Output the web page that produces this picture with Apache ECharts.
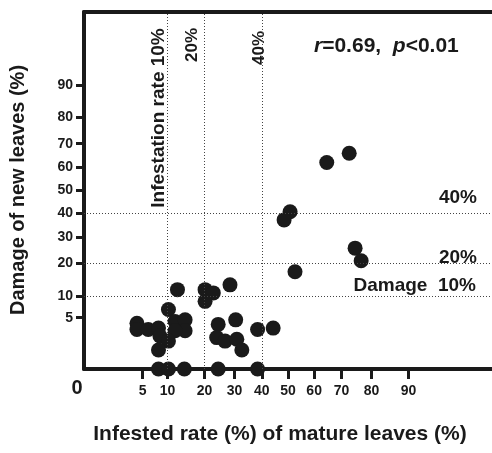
<!DOCTYPE html>
<html lang="en">
<head>
<meta charset="UTF-8">
<title>chart</title>
<script src="https://cdn.jsdelivr.net/npm/echarts@6/dist/echarts.min.js"></script>
<style>
  html, body { margin: 0; padding: 0; background: #fff; }
  #container { width: 492px; height: 453px; }
</style>
</head>
<body>
<div id="container"></div>
<script>
// values, in percent
const infested = [12.4, 10.2, 4.1, 4.1, 6.0, 8.0, 8.3, 11.8, 14.4, 14.4, 11.8, 10.2, 8.0, 8.0, 10.2, 14.2,
  20.2, 22.8, 20.2, 28.4, 24.4, 30.4, 23.9, 26.7, 30.8, 32.6, 38.4, 44.3, 24.4, 38.4,
  64.7, 72.7, 50.8, 48.5, 74.7, 76.7, 52.7]
const damage = [11.7, 6.7, 4.0, 3.0, 3.0, 3.2, 2.1, 4.3, 4.6, 2.8, 2.8, 1.5, 0.7, 0, 0, 0,
  11.7, 10.8, 8.6, 13.1, 3.8, 4.6, 1.9, 1.5, 1.7, 0.7, 3.0, 3.2, 0, 0,
  62.2, 66.1, 40.7, 37.2, 25.7, 21.0, 17.2]
const xTicks = [5, 10, 20, 30, 40, 50, 60, 70, 80, 90]
const yTicks = [5, 10, 20, 30, 40, 50, 60, 70, 80, 90]
const xRefs = [10, 20, 40]
const yRefs = [10, 20, 40]

// axes use the arcsine square-root transform (degrees)
const tf = p => Math.asin(Math.sqrt(p / 100)) * 180 / Math.PI
const back = v => Math.round(Math.pow(Math.sin(v * Math.PI / 180), 2) * 100)

const FONT = '"Liberation Sans", Arial, sans-serif'
const INK = '#1a1a1a'

const points = infested.map((x, i) => [tf(x), tf(damage[i])])

const refLine = { type: [1, 2], color: '#444', width: 1 }

const chart = echarts.init(document.getElementById('container'))
chart.setOption({
  animation: false,
  grid: { left: 84, top: 12, right: 0, bottom: 84, outerBoundsMode: 'none' },
  xAxis: [{
    type: 'value', min: 0, max: 90,
    splitLine: { show: false },
    axisLine: { lineStyle: { color: INK, width: 4 } },
    axisTick: { customValues: xTicks.map(tf), length: 10, lineStyle: { color: INK, width: 3 } },
    axisLabel: {
      customValues: xTicks.map(tf), formatter: v => back(v), margin: 15,
      color: INK, fontFamily: FONT, fontWeight: 'bold', fontSize: 14
    }
  }, {
    type: 'value', min: 0, max: 90, position: 'top',
    splitLine: { show: false }, axisTick: { show: false }, axisLabel: { show: false },
    axisLine: { lineStyle: { color: INK, width: 4 } }
  }],
  yAxis: {
    type: 'value', min: 0, max: 90,
    splitLine: { show: false },
    axisLine: { lineStyle: { color: INK, width: 4 } },
    axisTick: { customValues: yTicks.map(tf), length: 8, lineStyle: { color: INK, width: 3 } },
    axisLabel: {
      customValues: yTicks.map(tf), formatter: v => back(v), margin: 11,
      color: INK, fontFamily: FONT, fontWeight: 'bold', fontSize: 14
    }
  },
  series: [{
    type: 'scatter',
    data: points,
    symbolSize: 15,
    clip: false,
    itemStyle: { color: INK, opacity: 1 },
    markLine: {
      silent: true, symbol: 'none', label: { show: false }, lineStyle: refLine,
      data: xRefs.map(v => ({ xAxis: tf(v) })).concat(yRefs.map(v => ({ yAxis: tf(v) })))
    }
  }],
  graphic: [
    { type: 'text', x: 159, y: 118, rotation: Math.PI / 2,
      style: { text: 'Infestation rate 10%', font: 'bold 19px ' + FONT, fill: INK, align: 'center', verticalAlign: 'middle' } },
    { type: 'text', x: 192, y: 45, rotation: Math.PI / 2,
      style: { text: '20%', font: 'bold 17px ' + FONT, fill: INK, align: 'center', verticalAlign: 'middle' } },
    { type: 'text', x: 259, y: 48, rotation: Math.PI / 2,
      style: { text: '40%', font: 'bold 17px ' + FONT, fill: INK, align: 'center', verticalAlign: 'middle' } },
    { type: 'text', x: 477, y: 198,
      style: { text: '40%', font: 'bold 19px ' + FONT, fill: INK, align: 'right', verticalAlign: 'middle' } },
    { type: 'text', x: 477, y: 258,
      style: { text: '20%', font: 'bold 19px ' + FONT, fill: INK, align: 'right', verticalAlign: 'middle' } },
    { type: 'text', x: 476, y: 286,
      style: { text: 'Damage  10%', font: 'bold 19px ' + FONT, fill: INK, align: 'right', verticalAlign: 'middle' } },
    { type: 'text', x: 314, y: 46,
      style: {
        text: '{i|r}{n|=0.69,  }{i|p}{n|<0.01}', align: 'left', verticalAlign: 'middle',
        rich: {
          i: { font: 'italic bold 21px ' + FONT, fill: INK },
          n: { font: 'bold 21px ' + FONT, fill: INK }
        }
      } },
    { type: 'text', x: 77, y: 388,
      style: { text: '0', font: 'bold 20px ' + FONT, fill: INK, align: 'center', verticalAlign: 'middle' } },
    { type: 'text', x: 280, y: 434,
      style: { text: 'Infested rate (%) of mature leaves (%)', font: 'bold 21px ' + FONT, fill: INK, align: 'center', verticalAlign: 'middle' } },
    { type: 'text', x: 18, y: 190, rotation: Math.PI / 2,
      style: { text: 'Damage of new leaves (%)', font: 'bold 20px ' + FONT, fill: INK, align: 'center', verticalAlign: 'middle' } }
  ]
})
</script>
</body>
</html>
